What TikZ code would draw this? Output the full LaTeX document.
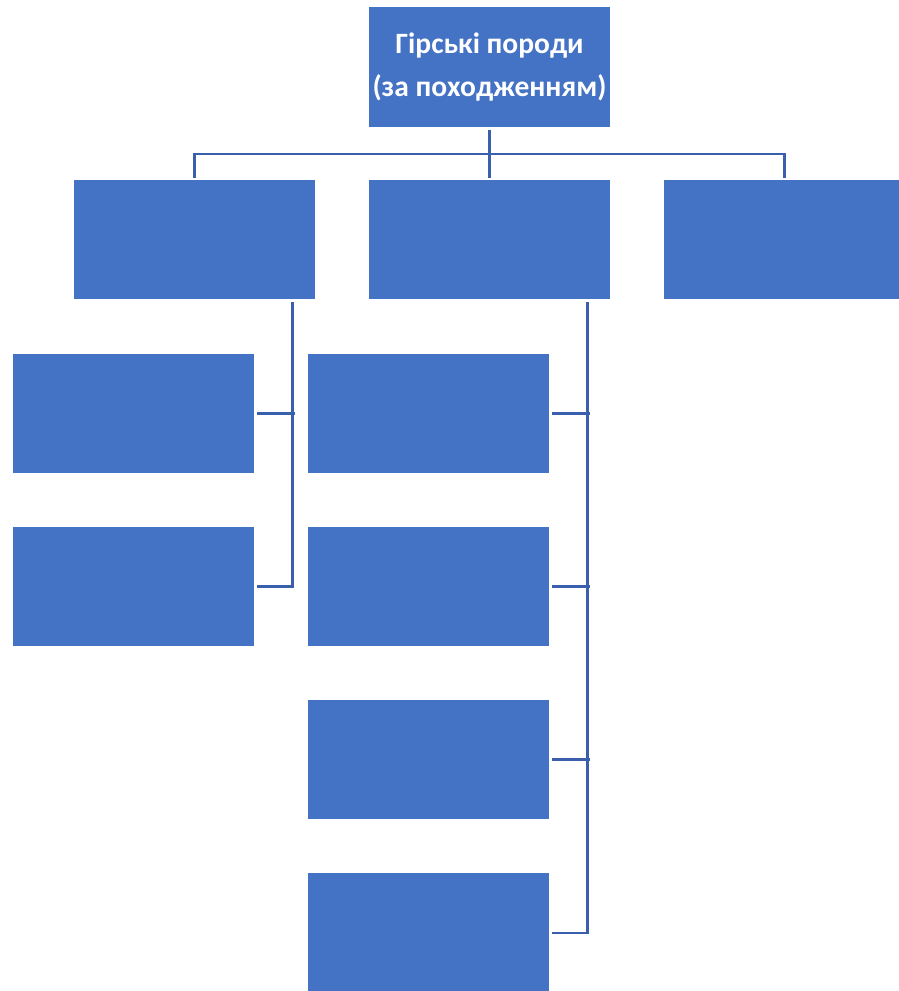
\documentclass[tikz,border=0pt]{standalone}
\usepackage{fontspec}
\setmainfont{Carlito}
\definecolor{boxblue}{HTML}{4472C4}
\definecolor{lineblue}{HTML}{3A60AD}
\begin{document}
\begin{tikzpicture}[x=1pt,y=1pt,
  box/.style={fill=boxblue,draw=none,minimum width=241pt,minimum height=120pt,inner sep=0pt,text=white,font=\fontsize{29.5}{43}\selectfont\bfseries,align=center},
  conn/.style={draw=lineblue,line width=2.6pt}]
\useasboundingbox (0,0) rectangle (899,-991);
\node[box] (root) at (489.5,-67) {Гірські породи\\(за походженням)};
\node[box,minimum height=119pt] (A) at (194.5,-239.5) {};
\node[box,minimum height=119pt] (B) at (489.5,-239.5) {};
\node[box,minimum height=119pt] (C) at (784.5,-239.5) {};
\node[box,minimum height=119pt] (L1) at (133.5,-413.5) {};
\node[box,minimum height=119pt] (L2) at (133.5,-586.5) {};
\node[box,minimum height=119pt] (M1) at (428.5,-413.5) {};
\node[box,minimum height=119pt] (M2) at (428.5,-586.5) {};
\node[box,minimum height=119pt] (M3) at (428.5,-759.5) {};
\node[box,minimum height=121pt] (M4) at (428.5,-933.5) {};
\coordinate (hb) at (0,-154);
\coordinate (abus) at ([xshift=-23pt,yshift=-3pt]A.south east);
\coordinate (bbus) at ([xshift=-23pt,yshift=-3pt]B.south east);
\draw[conn] ([yshift=-3pt]root.south) -- ([yshift=2pt]B.north);
\draw[conn] ([yshift=2pt]A.north) -- (A.north |- hb) -| ([yshift=2pt]C.north);
\draw[conn] (abus) |- ([xshift=3pt]L2.east);
\draw[conn] ([xshift=3pt]L1.east) -- ([xshift=3pt]L1.east -| abus);
\draw[conn] (bbus) |- ([xshift=3pt]M4.east |- 0,-933);
\draw[conn] ([xshift=3pt]M1.east) -- ([xshift=3pt]M1.east -| bbus);
\draw[conn] ([xshift=3pt]M2.east) -- ([xshift=3pt]M2.east -| bbus);
\draw[conn] ([xshift=3pt]M3.east) -- ([xshift=3pt]M3.east -| bbus);
\end{tikzpicture}
\end{document}
